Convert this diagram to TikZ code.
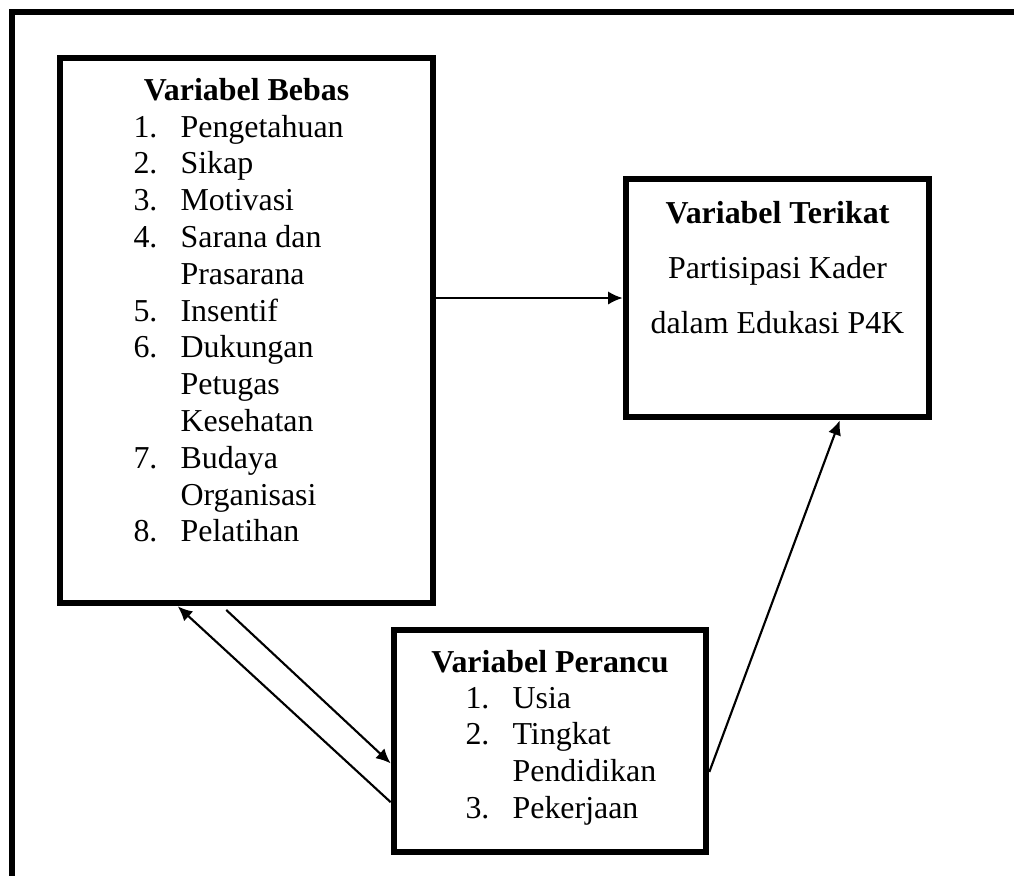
\documentclass[tikz,border=0pt]{standalone}
\usepackage{fontspec}
\setmainfont{Liberation Serif}
\usetikzlibrary{arrows.meta}

\begin{document}
\begin{tikzpicture}[x=0.376pt, y=-0.376pt,
    varbox/.style={draw, line width=2.5pt, inner sep=0pt},
    vartext/.style={inner sep=0pt, font=\fontsize{12}{13.84}\selectfont},
    vartitle/.style={inner sep=0pt, font=\fontsize{12}{13.84}\selectfont\bfseries},
    link/.style={line width=0.8pt, -{Latex[length=5.5pt, width=5pt]}}]
  \useasboundingbox (0, 0) rectangle (1014, 875);
  % frame
  \draw[line width=2.3pt] (12, 890) -- (12, 12) -- (1030, 12);
  % boxes
  \node[varbox, minimum width=140.25pt, minimum height=204.92pt] (bebas) at (246.5, 330.5) {};
  \node[varbox, minimum width=113.93pt, minimum height=89.49pt] (terikat) at (777.5, 298) {};
  \node[varbox, minimum width=117.31pt, minimum height=83.47pt] (perancu) at (550, 741) {};
  % texts
  \node[vartitle, anchor=base] (bebasTitle) at (246.5, 100) {Variabel Bebas};
  \node[vartext, anchor=base west] (bebasList) at (133, 137) {%
    \begin{tabular}[t]{@{}l@{\hspace{8.7pt}}l@{}}
      1. & Pengetahuan\\
      2. & Sikap\\
      3. & Motivasi\\
      4. & Sarana dan\\
         & Prasarana\\
      5. & Insentif\\
      6. & Dukungan\\
         & Petugas\\
         & Kesehatan\\
      7. & Budaya\\
         & Organisasi\\
      8. & Pelatihan
    \end{tabular}};
  \node[vartext, anchor=base, font=\fontsize{12}{20.7}\selectfont] (terikatText) at (777.5, 223) {%
    \begin{tabular}[t]{@{}c@{}}
      \textbf{Variabel Terikat}\\
      Partisipasi Kader\\
      dalam Edukasi P4K
    \end{tabular}};
  \node[vartitle, anchor=base] (perancuTitle) at (550, 672) {Variabel Perancu};
  \node[vartext, anchor=base west] (perancuList) at (465, 708) {%
    \begin{tabular}[t]{@{}l@{\hspace{8.7pt}}l@{}}
      1. & Usia\\
      2. & Tingkat\\
         & Pendidikan\\
      3. & Pekerjaan
    \end{tabular}};
  % arrows
  \draw[link] (bebas.east |- terikat.west) -- (terikat.west);
  \draw[link] (perancu.-11.4) -- (terikat.-63.6);
  \draw[link, shorten <=2pt] (bebas.-95.5) -- (perancu.-172.4);
  \draw[link] (perancu.-159.5) -- (bebas.-104.7);
\end{tikzpicture}
\end{document}
